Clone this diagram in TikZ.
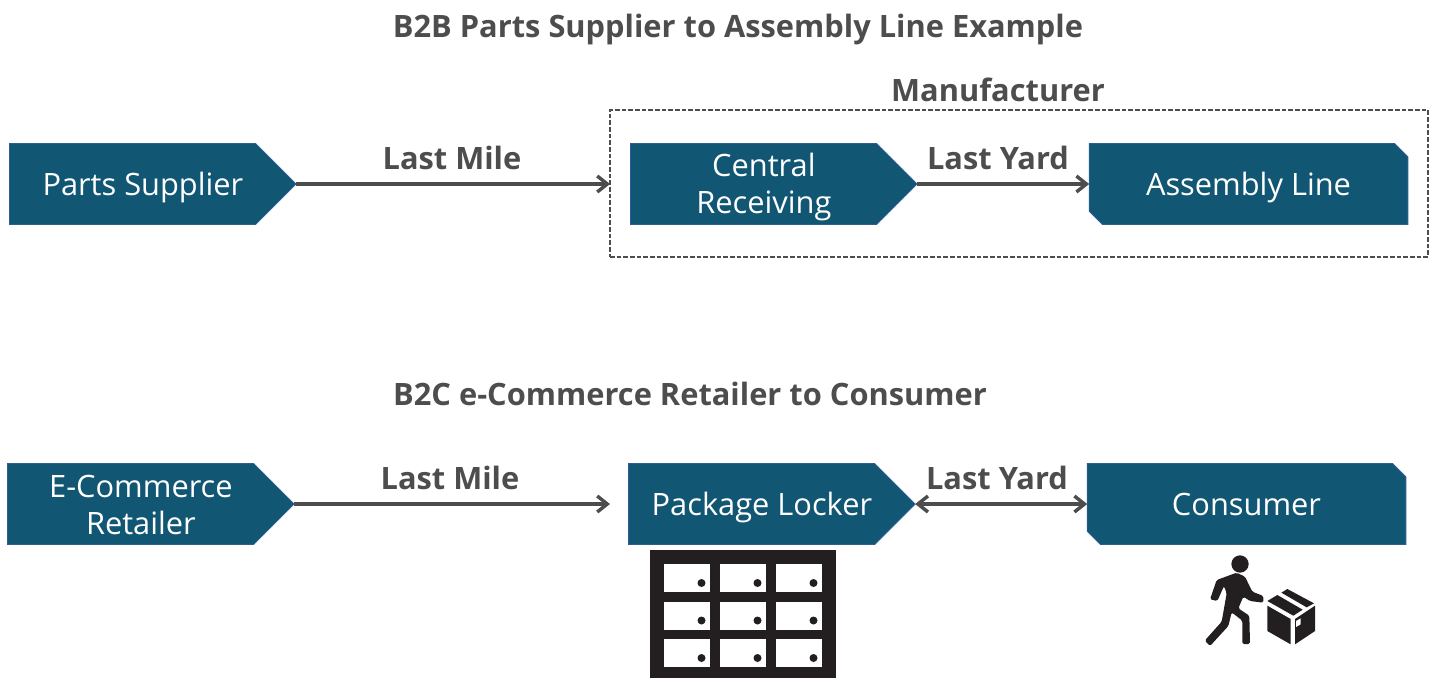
\documentclass[tikz,border=0pt]{standalone}
\usepackage{fontspec}
\setmainfont{Open Sans}
\usetikzlibrary{arrows.meta,shapes.symbols,shapes.misc}
\definecolor{boxfill}{HTML}{115673}
\definecolor{boxedge}{HTML}{2F5C98}
\definecolor{ink}{HTML}{4D4D4D}
\definecolor{icon}{HTML}{231F20}
% symmetric strut about the middle of the capitals
\newcommand{\capstrut}{\rule[-4.9pt]{0pt}{27.4pt}}
\newcommand{\tagline}[1]{\hspace*{15.5pt}\capstrut #1}
\tikzset{
  x=0.75pt,y=-0.75pt,
  base/.style={fill=boxfill,draw=boxedge,line width=0.6pt,text=white,font=\fontsize{23.1}{28}\selectfont,align=center,inner sep=0pt,outer sep=0pt},
  tagbox/.style={base,shape=signal,signal to=east,signal from=nowhere,signal pointer angle=90,minimum height=60.75pt,minimum width=215pt,anchor=west},
  snipbox/.style={base,shape=chamfered rectangle,chamfered rectangle corners={north east,south west},chamfered rectangle xsep=5pt,chamfered rectangle ysep=5pt,minimum height=60.75pt,minimum width=239pt},
  heading/.style={text=ink,font=\bfseries\fontsize{23.1}{27}\selectfont,inner sep=0pt},
  conn/.style={draw=ink,line width=2.6pt,-{Straight Barb[length=7.5pt,width=12pt,line width=2.6pt]}},
  connboth/.style={draw=ink,line width=2.6pt,{Straight Barb[length=7.5pt,width=12pt,line width=2.6pt]}-{Straight Barb[length=7.5pt,width=12pt,line width=2.6pt]}},
  limb/.style={fill=icon,rounded corners=1.2pt}
}
\begin{document}
\begin{tikzpicture}
\useasboundingbox (0,0) rectangle (1434,678);
\node[heading] (t1) at (738,26) {\capstrut B2B Parts Supplier to Assembly Line Example};
\node[heading] (t2) at (690,394) {\capstrut B2C e-Commerce Retailer to Consumer};
\node[heading] (tm) at (998,90) {\capstrut Manufacturer};
\node[draw=ink,dash pattern=on 3.4pt off 1.6pt,line width=0.9pt,minimum width=613.5pt,minimum height=110.25pt,inner sep=0pt,outer sep=0pt] (mfg) at (1019,183.5) {};
\node[tagbox] (ps) at (9.5,184) {\tagline{Parts Supplier}};
\node[tagbox] (cr) at (630.5,184) {\tagline{Central}\\\tagline{Receiving}};
\node[snipbox] (al) at (1248.5,184) {\capstrut Assembly Line};
\node[tagbox] (er) at (7.5,504) {\tagline{E-Commerce}\\\tagline{Retailer}};
\node[tagbox] (pl) at (628.5,504) {\tagline{Package Locker}};
\node[snipbox] (co) at (1246.5,504) {\capstrut Consumer};
\coordinate (lockin) at (610,504);
\draw[conn] (ps.east) -- (ps.east -| mfg.west);
\draw[conn] (cr.east) -- (al.west);
\draw[conn] (er.east) -- (lockin);
\draw[connboth] (pl.east) -- (co.west);
\node[heading] (l1) at (452,158) {\capstrut Last Mile};
\node[heading] (l2) at (998,158) {\capstrut Last Yard};
\node[heading] (l3) at (450,478) {\capstrut Last Mile};
\node[heading] (l4) at (997,478) {\capstrut Last Yard};
% locker
\fill[icon] (649.5,550) rectangle (836,678);
\foreach \cx in {663.5,719.5,775.5}{
  \foreach \cy in {564,601.5,639}{
    \fill[white] (\cx,\cy) rectangle ++(46.5,28);
    \fill[icon] (\cx+38,\cy+19) circle[radius=4];
  }
}
% person
\begin{scope}[shift={(1200,550)},x=0.25pt,y=-0.25pt]
\fill[icon] (120,42) circle[radius=26];
\fill[limb] (30,148) -- (50,90) -- (110,68) -- (135,80) -- (157,125) -- (190,138) -- (190,158) -- (150,153) -- (130,140) -- (115,175) -- (148,197) -- (150,282) -- (127,282) -- (127,212) -- (95,187) -- (85,228) -- (30,288) -- (14,272) -- (65,215) -- (80,130) -- (72,108) -- (52,153) -- cycle;
\end{scope}
% parcel
\begin{scope}[shift={(1260,585)},x=0.25pt,y=-0.25pt]
\fill[icon] (22,48) -- (52,30) -- (128,74) -- (100,92) -- cycle;
\fill[icon] (64,23) -- (82,12) -- (162,55) -- (140,67) -- cycle;
\fill[icon] (22,62) -- (92,102) -- (92,178) -- (22,138) -- cycle;
\fill[icon] (105,102) -- (165,62) -- (165,138) -- (105,178) -- cycle;
\fill[white] (108,108) -- (122,100) -- (122,118) -- (108,126) -- cycle;
\end{scope}
\end{tikzpicture}
\end{document}
